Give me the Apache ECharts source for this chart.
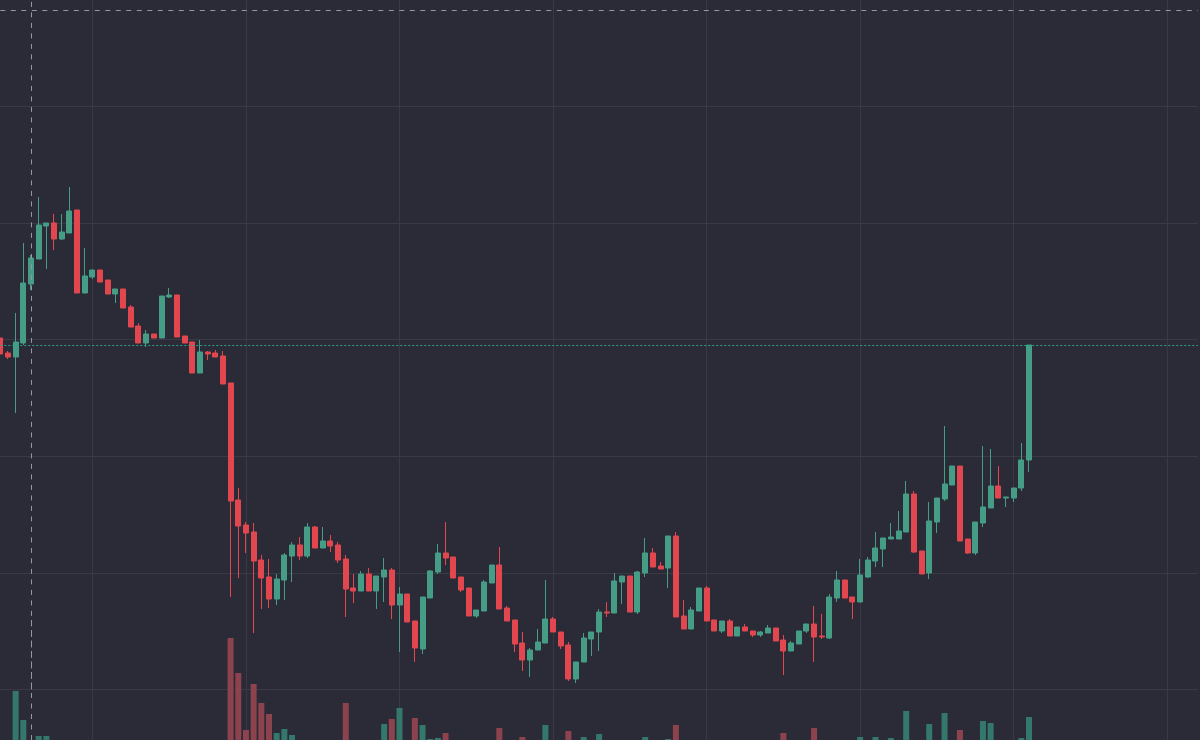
<!DOCTYPE html>
<html>
<head>
<meta charset="utf-8">
<script src="https://cdn.jsdelivr.net/npm/echarts@6/dist/echarts.min.js"></script>
<style>
  html, body { margin: 0; padding: 0; background: #2b2b38; }
  #main { width: 1200px; height: 740px; }
</style>
</head>
<body>
<div id="main"></div>
<script>
// bar -1 .. 133 (bar -1 is the half-visible one at the left edge)
const opens = [
  46.8, 45.3, 44.9, 46.3, 52.2, 54.7, 58.0, 58.3, 56.7, 57.3,
  59.6, 51.3, 52.9, 53.6, 52.6, 51.2, 51.7, 49.9, 48.0, 46.3,
  47.2, 46.8, 50.9, 51.1, 47.0, 46.4, 43.3, 45.4, 45.3, 45.0,
  42.3, 30.6, 28.1, 27.4, 24.6, 22.9, 20.7, 22.6, 25.0, 26.1,
  25.0, 27.9, 25.8, 26.5, 26.1, 24.7, 21.8, 21.5, 23.2, 21.5,
  22.9, 23.6, 20.1, 21.2, 18.5, 15.7, 20.8, 23.4, 25.3, 24.9,
  22.9, 21.8, 19.0, 19.5, 22.3, 24.1, 19.8, 18.6, 16.3, 14.6,
  15.6, 16.3, 18.7, 17.4, 16.1, 12.7, 14.4, 16.7, 17.4, 19.4,
  19.3, 22.4, 23.0, 19.4, 23.3, 25.3, 24.0, 23.8, 27.0, 19.0,
  17.7, 19.5, 21.8, 18.6, 17.5, 18.5, 17.0, 17.9, 17.5, 17.1,
  17.3, 17.8, 16.6, 15.5, 16.2, 17.5, 18.2, 17.0, 16.8, 20.8,
  22.6, 20.9, 20.4, 22.9, 24.5, 25.7, 26.7, 26.7, 27.4, 31.2,
  25.5, 23.3, 28.4, 30.7, 32.1, 34.0, 26.7, 25.3, 28.3, 29.8,
  32.0, 30.8, 30.8, 31.8, 34.6
];
const closes = [
  45.2, 44.9, 46.4, 52.3, 54.8, 58.1, 58.3, 56.7, 57.4, 59.5,
  51.3, 53.0, 53.6, 52.4, 51.2, 51.7, 49.8, 47.9, 46.3, 47.2,
  46.8, 51.0, 51.1, 46.9, 46.3, 43.3, 45.4, 45.2, 44.9, 42.2,
  30.5, 28.0, 27.3, 24.5, 22.8, 20.7, 22.7, 25.1, 26.1, 25.0,
  27.9, 25.8, 26.5, 26.0, 24.6, 21.7, 21.5, 23.2, 21.5, 23.0,
  23.6, 20.1, 21.2, 18.4, 15.8, 20.9, 23.5, 25.3, 24.8, 22.8,
  21.6, 19.0, 19.6, 22.4, 24.1, 19.7, 18.5, 16.2, 14.6, 15.6,
  16.4, 18.7, 17.4, 16.0, 12.7, 14.4, 16.8, 17.4, 19.4, 19.3,
  22.5, 23.0, 19.4, 23.4, 25.3, 23.9, 23.7, 27.0, 18.9, 17.7,
  19.6, 21.8, 18.5, 17.5, 18.5, 17.0, 17.9, 17.5, 17.1, 17.4,
  17.8, 16.5, 15.5, 16.3, 17.5, 18.2, 16.9, 16.9, 20.9, 22.6,
  20.8, 20.4, 23.1, 24.6, 25.8, 26.8, 26.9, 27.5, 31.2, 25.4,
  23.2, 28.5, 30.8, 32.2, 34.0, 26.5, 25.3, 28.4, 29.9, 32.0,
  30.8, 30.9, 31.8, 34.6, 46.1
];
const highs = [
  46.8, 45.5, 49.3, 56.3, 55.1, 60.9, 58.3, 59.2, 59.2, 61.9,
  59.6, 55.8, 53.6, 53.6, 52.6, 51.7, 51.7, 50.1, 48.3, 47.6,
  47.2, 51.0, 51.8, 51.1, 47.0, 46.4, 46.6, 45.5, 45.6, 45.5,
  42.3, 31.8, 28.4, 28.3, 25.1, 24.7, 23.2, 25.3, 26.4, 26.9,
  28.3, 28.0, 27.9, 27.1, 26.4, 25.1, 23.2, 23.5, 23.8, 23.0,
  24.8, 23.8, 21.9, 21.2, 18.5, 20.9, 23.6, 26.2, 28.4, 24.9,
  22.9, 21.8, 19.6, 22.6, 24.1, 25.9, 20.0, 18.6, 17.4, 15.8,
  17.7, 22.6, 18.9, 17.4, 16.4, 14.4, 17.3, 17.4, 19.7, 20.4,
  23.3, 23.0, 23.0, 23.5, 26.8, 25.8, 24.4, 27.0, 27.4, 20.6,
  19.9, 21.8, 22.0, 18.6, 18.5, 18.7, 17.9, 18.2, 17.5, 17.5,
  18.1, 17.8, 17.1, 16.5, 17.5, 18.2, 20.0, 19.2, 21.2, 23.5,
  22.6, 20.9, 24.7, 24.9, 27.4, 26.8, 28.3, 29.5, 32.5, 31.5,
  25.5, 30.4, 30.8, 38.0, 34.0, 34.0, 26.7, 28.4, 36.0, 35.7,
  34.0, 30.9, 31.8, 36.3, 46.1
];
const lows = [
  45.2, 44.7, 39.3, 46.1, 51.6, 54.7, 53.7, 55.6, 56.6, 57.3,
  51.3, 51.3, 52.7, 52.4, 51.2, 50.3, 49.8, 47.9, 46.3, 45.9,
  46.8, 46.8, 50.8, 46.9, 46.3, 43.3, 43.3, 44.6, 44.9, 42.2,
  20.9, 22.8, 25.3, 17.3, 19.7, 19.8, 20.1, 20.6, 22.4, 24.6,
  24.8, 25.8, 25.8, 25.4, 24.3, 18.9, 20.3, 21.5, 21.5, 19.7,
  20.4, 18.7, 15.4, 18.4, 14.4, 15.2, 20.8, 23.2, 24.1, 22.8,
  21.4, 19.0, 18.8, 19.5, 22.3, 19.7, 18.5, 15.4, 13.5, 12.9,
  15.6, 16.3, 17.4, 15.7, 12.5, 12.3, 14.4, 15.0, 15.5, 18.9,
  19.3, 20.2, 19.4, 19.2, 22.9, 23.9, 23.7, 21.8, 18.9, 17.7,
  17.7, 19.5, 18.5, 17.5, 17.3, 17.0, 17.0, 17.5, 16.9, 16.9,
  17.3, 16.5, 13.1, 15.5, 16.2, 17.3, 14.4, 16.7, 16.7, 20.4,
  20.8, 18.7, 20.4, 22.8, 23.9, 23.9, 26.7, 26.7, 27.4, 25.3,
  23.2, 22.7, 27.3, 30.5, 32.1, 26.5, 25.2, 25.1, 27.9, 29.8,
  30.8, 29.9, 30.4, 31.5, 33.4
];
const volumes = [
  0, 0, 49, 20, 0, 4, 4, 0, 0, 0,
  0, 0, 0, 0, 0, 0, 0, 0, 0, 0,
  0, 0, 0, 0, 0, 0, 0, 0, 0, 0,
  102, 67, 10, 56, 37, 26, 7, 11, 5, 0,
  0, 0, 0, 0, 0, 37, 0, 0, 0, 0,
  16, 21, 32, 0, 22, 15, 1, 2, 7, 0,
  0, 0, 0, 0, 0, 12, 0, 0, 3, 0,
  0, 15, 0, 0, 9, 0, 3, 0, 6, 0,
  0, 0, 0, 0, 3, 0, 0, 1, 15, 0,
  0, 0, 0, 0, 0, 0, 0, 0, 0, 0,
  0, 0, 7, 0, 0, 0, 12, 0, 0, 0,
  0, 0, 3, 0, 3, 0, 2, 0, 29, 0,
  0, 16, 0, 27, 0, 10, 0, 0, 19, 17,
  0, 0, 0, 2, 23
];
// bar slots on the time axis, incl. empty space on the right
const bars = [];
for (let i = -1; i <= 155; i++) bars.push(String(i));

const priceMin = 11.66, priceMax = 80.6, priceStep = 11.66;
const crossBar = '3';
const crossPrice = 79.55;

const up = '#459d85', down = '#e2474f';
const upVol = '#34776b', downVol = '#8c434d';
const gridColor = '#3a3a46';
const crossStyle = { color: '#9598a1', width: 1, type: [5, 5.5] };

const candles = opens.map((o, k) => [o, closes[k], lows[k], highs[k]]);
const volData = volumes.map((v, k) => ({
  value: v,
  itemStyle: { color: closes[k] >= opens[k] ? upVol : downVol }
}));

// last split line sits on the top edge, keep it invisible
const hLineColors = [gridColor, gridColor, gridColor, gridColor, gridColor, gridColor, 'rgba(0,0,0,0)'];

const vSplit = {
  show: true,
  interval: (idx) => idx % 20 === 12,
  lineStyle: { color: gridColor, width: 1 }
};

const chart = echarts.init(document.getElementById('main'));
chart.setOption({
  backgroundColor: '#2b2b38',
  animation: false,
  grid: [
    { left: 0.3, right: 2.1, top: 0, bottom: 50.6 },
    { left: 0.3, right: 2.1, bottom: 0, height: 120 }
  ],
  xAxis: [
    {
      type: 'category', gridIndex: 0, data: bars, boundaryGap: false,
      axisLine: { show: false }, axisTick: { show: false }, axisLabel: { show: false },
      splitLine: vSplit
    },
    {
      type: 'category', gridIndex: 1, data: bars, boundaryGap: false,
      axisLine: { show: false }, axisTick: { show: false }, axisLabel: { show: false },
      splitLine: vSplit
    }
  ],
  yAxis: [
    {
      type: 'value', gridIndex: 0, min: priceMin, max: priceMax, interval: priceStep,
      axisLine: { show: false }, axisTick: { show: false }, axisLabel: { show: false },
      splitLine: { show: true, lineStyle: { color: hLineColors, width: 1 } }
    },
    {
      type: 'value', gridIndex: 1, min: 0, max: 120,
      axisLine: { show: false }, axisTick: { show: false }, axisLabel: { show: false },
      splitLine: { show: false }
    }
  ],
  series: [
    {
      type: 'bar',
      xAxisIndex: 1, yAxisIndex: 1,
      data: volData,
      barWidth: 6,
      markLine: {
        silent: true,
        symbol: ['none', 'none'],
        label: { show: false },
        lineStyle: crossStyle,
        data: [{ xAxis: crossBar }]
      }
    },
    {
      type: 'candlestick',
      xAxisIndex: 0, yAxisIndex: 0,
      data: candles,
      barWidth: 5.5,
      itemStyle: {
        color: up, color0: down,
        borderColor: up, borderColor0: down,
        borderWidth: 1
      },
      markLine: {
        silent: true,
        symbol: ['none', 'none'],
        label: { show: false },
        lineStyle: { color: '#2fa08c', width: 1, type: [2, 2] },
        data: [{ yAxis: closes[closes.length - 1] }]
      }
    },
    {
      // crosshair, drawn on the price pane
      type: 'line',
      xAxisIndex: 0, yAxisIndex: 0,
      data: [],
      markLine: {
        silent: true,
        symbol: ['none', 'none'],
        label: { show: false },
        lineStyle: crossStyle,
        data: [{ xAxis: crossBar }, { yAxis: crossPrice }]
      }
    }
  ]
});
</script>
</body>
</html>
